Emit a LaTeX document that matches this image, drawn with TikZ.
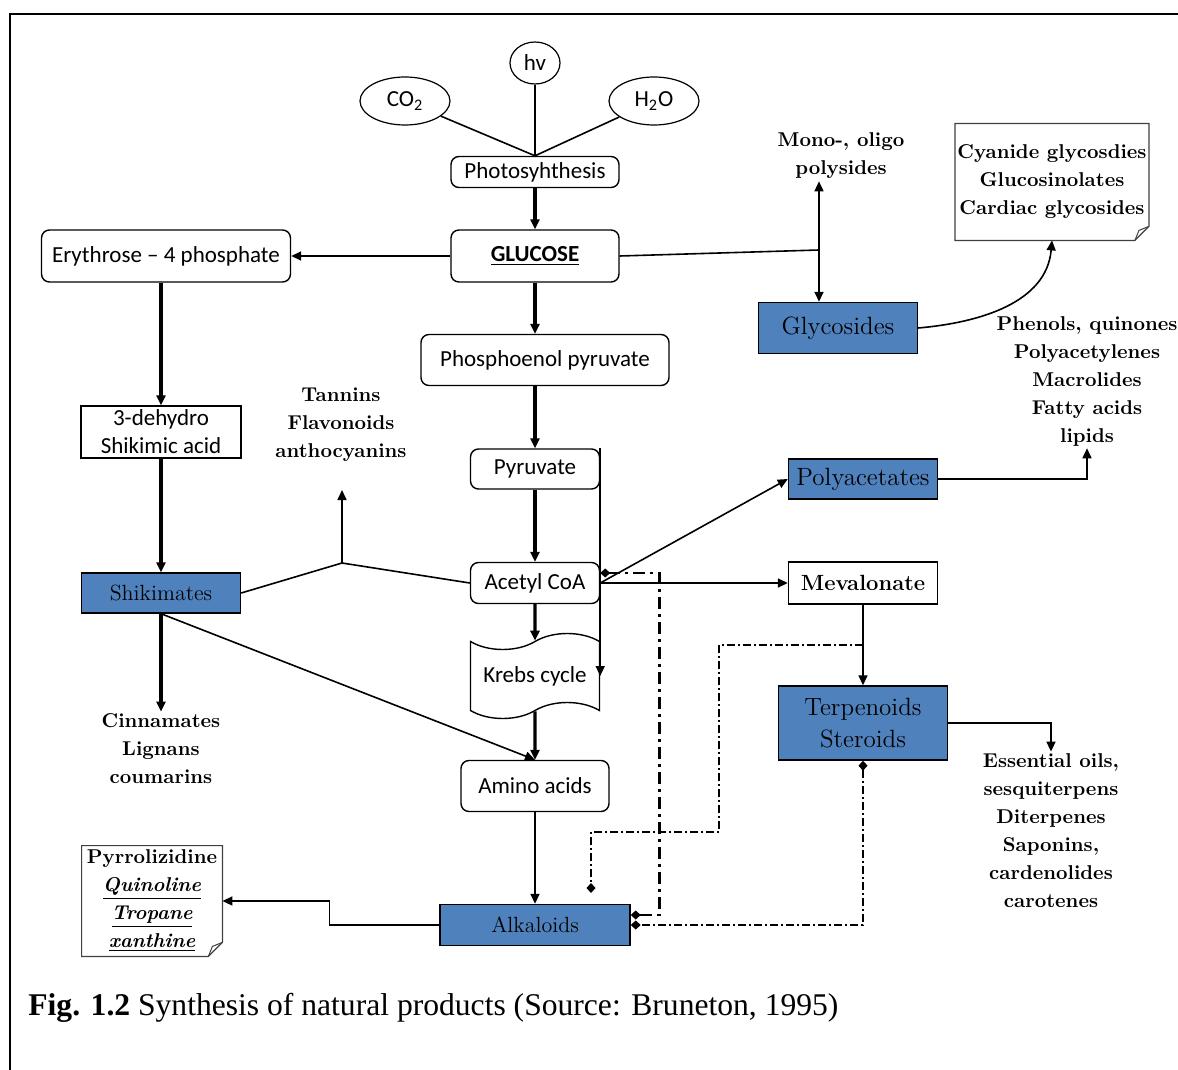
\documentclass[tikz,border=0pt]{standalone}
\usepackage{fontspec}
\newfontfamily\calib{Carlito}
\newfontfamily\capfont{Liberation Serif}
\usetikzlibrary{positioning,shapes.geometric,shapes.symbols,arrows.meta}

\definecolor{boxblue}{HTML}{4F81BD}

\tikzset{
  sansfont/.style={font=\calib\fontsize{11.5}{14}\selectfont},
  rbox/.style={draw, rounded corners=4pt, line width=0.7pt, sansfont, inner sep=1pt, align=center},
  sbox/.style={draw, line width=0.7pt, sansfont, inner sep=1pt, align=center},
  bluebox/.style={draw, fill=boxblue, line width=0.7pt, inner sep=1pt, align=center,
    font=\fontsize{12.5}{16}\selectfont},
  bubble/.style={draw, ellipse, line width=0.6pt, sansfont, inner sep=0pt},
  lst/.style={align=center, inner sep=1pt, font=\bfseries\fontsize{10}{14}\selectfont},
  tri/.tip={Triangle[length=5pt,width=4.5pt]},
  dia/.tip={Diamond[length=5pt,width=4.5pt]},
  mainarr/.style={-tri, line width=1.7pt},
  thinarr/.style={-tri, line width=0.8pt},
  thinline/.style={line width=0.8pt},
  dashdotbig/.style={line width=1.3pt, dash pattern=on 6pt off 2.5pt on 1.5pt off 2.5pt},
  dashdotsmall/.style={line width=0.7pt, dash pattern=on 4pt off 1.5pt on 1pt off 1.5pt}
}

% box with a turned-down corner
\newcommand\dogear[1]{%
  \draw[line width=0.6pt, black!75] (#1.north west) -- (#1.north east)
    -- ([yshift=7pt]#1.south east) -- ([xshift=-7pt]#1.south east)
    -- (#1.south west) -- cycle;
  \draw[line width=0.5pt, black!75] ([xshift=-7pt]#1.south east)
    -- ([xshift=-5pt,yshift=5pt]#1.south east) -- ([yshift=7pt]#1.south east);}

\begin{document}
\begin{tikzpicture}[x=0.5pt,y=-0.5pt]
\useasboundingbox (0,0) rectangle (1178,1070);
\draw[line width=1pt] (10,1070) -- (10,14) -- (1178,14);

\node[bubble, minimum width=25pt, minimum height=21pt] (hv) at (535,63) {hv};
\node[bubble, minimum width=45pt, minimum height=24pt] (co2) at (405,101) {CO\textsubscript{2}};
\node[bubble, minimum width=45pt, minimum height=24pt] (h2o) at (654,101) {H\textsubscript{2}O};
\node[rbox, minimum width=84pt, minimum height=15.5pt] (photo) at (535,172) {Photosyhthesis};
\node[rbox, minimum width=84pt, minimum height=26pt] (glc) at (535,256) {\textbf{\underline{GLUCOSE}}};
\node[rbox, minimum width=124.5pt, minimum height=26pt] (ery) at (166,256) {Erythrose \textendash{} 4 phosphate};
\node[sbox, minimum width=80pt, minimum height=26pt] (dhs) at (161,432) {3-dehydro\\Shikimic acid};
\node[bluebox, minimum width=79.5pt, minimum height=20pt, font=\fontsize{11}{13}\selectfont] (shik) at (161,593) {Shikimates};
\node[rbox, minimum width=124pt, minimum height=25.5pt] (pep) at (545,360) {Phosphoenol pyruvate};
\node[rbox, minimum width=64.5pt, minimum height=20pt] (pyr) at (535,469) {Pyruvate};
\node[rbox, minimum width=64.5pt, minimum height=20.5pt] (acoa) at (535,583) {Acetyl CoA};
\node[draw, tape, line width=0.7pt, sansfont, minimum width=64.5pt, minimum height=42.5pt,
  tape bend height=8pt] (krebs) at (535,676) {Krebs cycle};
\node[rbox, minimum width=74pt, minimum height=25.5pt] (amino) at (535,786) {Amino acids};
\node[bluebox, minimum width=95pt, minimum height=20.5pt, font=\fontsize{11}{13}\selectfont] (alk) at (535,925) {Alkaloids};
\node[bluebox, minimum width=79.5pt, minimum height=25.5pt] (glyc) at (838,328) {Glycosides};
\node[bluebox, minimum width=74.5pt, minimum height=20pt] (polyac) at (863,479) {Polyacetates};
\node[sbox, minimum width=74.5pt, minimum height=21pt, font=\bfseries\fontsize{11}{13}\selectfont] (meva) at (863,583) {Mevalonate};
\node[bluebox, minimum width=84.5pt, minimum height=37pt] (terp) at (863,723) {Terpenoids\\Steroids};

\node[lst] (mono) at (841,156) {Mono-, oligo\\polysides};
\node[lst, minimum width=94.5pt, minimum height=58pt] (cyan) at (1052,182) {Cyanide glycosdies\\Glucosinolates\\Cardiac glycosides};
\dogear{cyan}
\node[lst] (phen) at (1087,381) {Phenols, quinones\\Polyacetylenes\\Macrolides\\Fatty acids\\lipids};
\node[lst] (tann) at (341,425) {Tannins\\Flavonoids\\anthocyanins};
\node[lst] (cinn) at (161,749) {Cinnamates\\Lignans\\coumarins};
\node[lst] (ess) at (1051,831) {Essential oils,\\sesquiterpens\\Diterpenes\\Saponins,\\cardenolides\\carotenes};
\node[lst, minimum width=70pt, minimum height=55pt] (pyrr) at (152,901) {Pyrrolizidine\\\textit{\underline{Quinoline}}\\\textit{\underline{Tropane}}\\\textit{\underline{xanthine}}};
\dogear{pyrr}

\coordinate (gj) at (819,250);
\coordinate (tj) at (342,563);
\coordinate (tt) at (342,490);

\draw[thinline] (co2) -- (photo.north);
\draw[thinline] (hv) -- (photo.north);
\draw[thinline] (h2o) -- (photo.north);
\draw[mainarr] (photo) -- (glc);
\draw[thinarr] (glc) -- (ery);
\draw[mainarr] (dhs.north |- ery.south) -- (dhs.north);
\draw[mainarr] (dhs) -- (shik);
\draw[mainarr] (shik) -- (cinn);
\draw[mainarr] (glc.south) -- (glc.south |- pep.north);
\draw[mainarr] (pyr.north |- pep.south) -- (pyr.north);
\draw[mainarr] (pyr) -- (acoa);
\draw[mainarr] (acoa) -- (krebs);
\draw[mainarr] (krebs) -- (amino);
\draw[thinarr] (amino) -- (alk);
\draw[thinarr] (pyr.north east) -- (pyr.north east |- krebs.east);
\draw[thinarr] (acoa.east) -- (meva);
\draw[thinarr] (acoa.east) -- (polyac.west);
\draw[thinarr] (meva) -- (terp);
\draw[thinarr] (terp.east) -| (ess.north);
\draw[thinarr] (polyac.east) -| (phen.south);
\draw[thinline] (glc.east) -- (gj);
\draw[thinline, tri-tri] (gj |- mono.south) -- (gj |- glyc.north);
\draw[thinarr] (glyc.east) to[out=5, in=-95] (cyan.south);
\draw[thinline] (shik.east) -- (tj) -- (acoa.west);
\draw[thinarr] (tj) -- (tt);
\draw[thinarr] (shik.south) -- (amino.north);
\draw[thinarr] (alk.west) -- ++(-110,0) |- (pyrr.east);

\draw[dashdotbig, dia-dia] ([yshift=5pt]acoa.east) -- ++(59,0) |- ([yshift=5pt]alk.east);
\draw[dashdotsmall, -dia] (meva.south |- 0,645) -| (719,832) -| (591,893);
\draw[dashdotsmall, dia-dia] (terp.south) |- (alk.east);

\node[anchor=base west, inner sep=0pt, font=\capfont\fontsize{15.8}{18}\selectfont] (cap) at (28,1015)
  {\textbf{Fig. 1.2} Synthesis of natural products (Source: Bruneton, 1995)};
\end{tikzpicture}
\end{document}
